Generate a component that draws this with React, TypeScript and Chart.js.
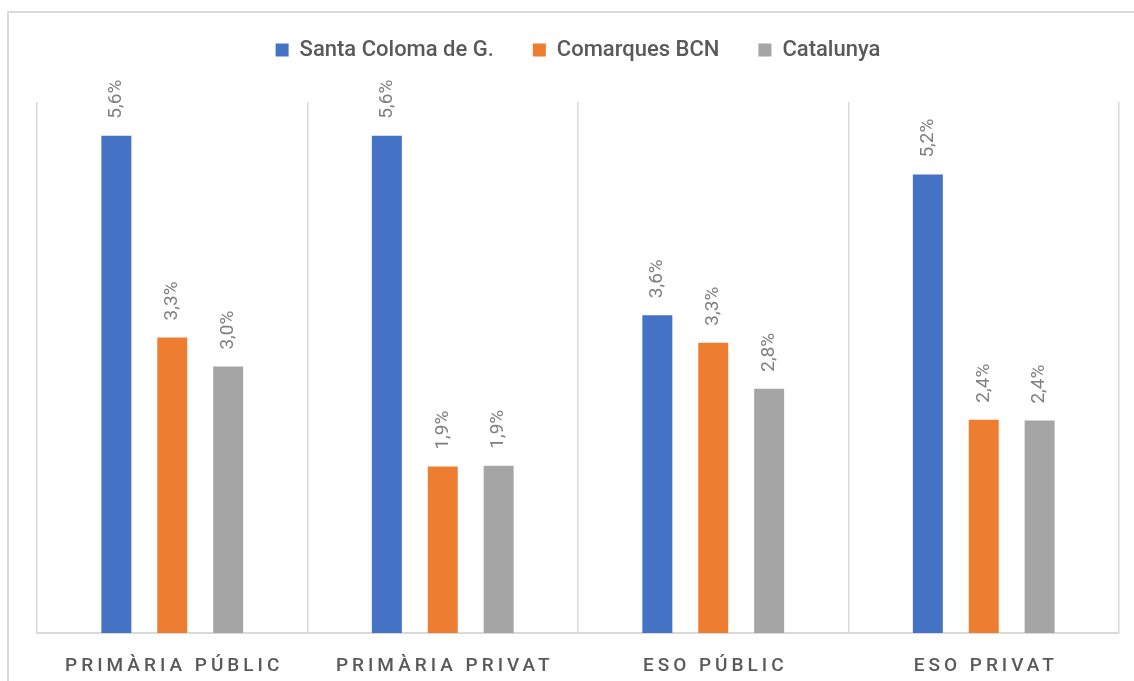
import React, { useEffect, useRef } from "react";
import { Chart, registerables } from "chart.js";

Chart.register(...registerables);

const categories = ["PRIMÀRIA PÚBLIC", "PRIMÀRIA PRIVAT", "ESO PÚBLIC", "ESO PRIVAT"];
const seriesNames = ["Santa Coloma de G.", "Comarques BCN", "Catalunya"];
const santaColoma = [5.62, 5.62, 3.59, 5.18];
const comarquesBCN = [3.34, 1.88, 3.28, 2.41];
const catalunya = [3.01, 1.89, 2.76, 2.4];
const seriesColors = ["#4472C4", "#ED7D31", "#A5A5A5"];
const yMax = 6;

const fmt = (v: number) => v.toFixed(1).replace(".", ",") + "%";

const legendSpacer = {
  id: "legendSpacer",
  beforeInit(chart: any) {
    if (!chart.legend) return;
    const orig = chart.legend.fit;
    chart.legend.fit = function () {
      orig.bind(chart.legend)();
      this.height += 31;
    };
  },
};

const valueLabels = {
  id: "valueLabels",
  afterDatasetsDraw(chart: any) {
    const ctx = chart.ctx;
    chart.data.datasets.forEach((ds: any, di: number) => {
      const meta = chart.getDatasetMeta(di);
      meta.data.forEach((bar: any, i: number) => {
        ctx.save();
        ctx.translate(bar.x, bar.y - 17);
        ctx.rotate(-Math.PI / 2);
        ctx.font = "19px Roboto";
        ctx.fillStyle = "#7f7f7f";
        ctx.textAlign = "left";
        ctx.textBaseline = "middle";
        ctx.fillText(fmt(ds.data[i]), 0, 0);
        ctx.restore();
      });
    });
  },
};

const xLabels = {
  id: "xLabels",
  afterDraw(chart: any) {
    const ctx = chart.ctx;
    const sx = chart.scales.x;
    ctx.save();
    ctx.font = "500 19px Roboto";
    ctx.fillStyle = "#595959";
    ctx.textAlign = "center";
    ctx.textBaseline = "alphabetic";
    (ctx as any).letterSpacing = "4px";
    categories.forEach((c, i) => {
      ctx.fillText(c, sx.getPixelForValue(i) + 2, 671);
    });
    ctx.restore();
  },
};

export default function App() {
  const ref = useRef<HTMLCanvasElement>(null);
  useEffect(() => {
    if (!ref.current) return;
    const chart = new Chart(ref.current, {
      type: "bar",
      data: {
        labels: categories,
        datasets: [santaColoma, comarquesBCN, catalunya].map((d, i) => ({
          label: seriesNames[i],
          data: d,
          backgroundColor: seriesColors[i],
          borderWidth: 0,
          categoryPercentage: 0.62,
          barPercentage: 0.536,
        })),
      },
      options: {
        animation: false,
        responsive: false,
        maintainAspectRatio: false,
        layout: { padding: { left: 37, right: 15, top: 0, bottom: 48 } },
        plugins: {
          tooltip: { enabled: false },
          title: { display: false },
          legend: {
            display: true,
            position: "top",
            labels: {
              boxWidth: 13,
              boxHeight: 13,
              padding: 39,
              color: "#595959",
              font: { family: "Roboto", size: 22, weight: "500" },
            },
          },
        },
        scales: {
          x: {
            grid: { display: true, offset: true, color: "#d9d9d9", lineWidth: 1.5, drawTicks: false },
            border: { display: true, color: "#d9d9d9", width: 2 },
            ticks: { display: false },
          },
          y: {
            display: false,
            min: 0,
            max: yMax,
          },
        },
      },
      plugins: [legendSpacer, valueLabels, xLabels],
    });
    return () => chart.destroy();
  }, []);
  return (
    <div style={{ position: "absolute", left: 0, top: 0, width: 1134, height: 681, overflow: "hidden", background: "#fff" }}>
      <div
        style={{
          position: "absolute",
          left: 7,
          top: 11,
          width: 1160,
          height: 700,
          border: "2px solid #dadada",
          boxSizing: "border-box",
        }}
      />
      <canvas ref={ref} width={1134} height={681} style={{ position: "absolute", left: 0, top: 0, width: 1134, height: 681 }} />
    </div>
  );
}
